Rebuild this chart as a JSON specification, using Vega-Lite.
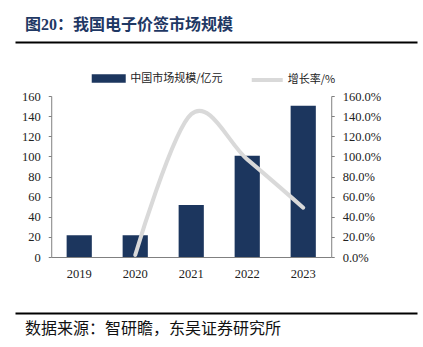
{
  "$schema": "https://vega.github.io/schema/vega-lite/v6.json",
  "padding": {"left": 15, "top": 16, "right": 6, "bottom": 5},
  "background": "white",
  "center": true,
  "spacing": 26,
  "config": {"view": {"stroke": null}, "font": "Liberation Serif, Noto Sans CJK SC"},
  "resolve": {"legend": {"fill": "independent", "stroke": "independent"}},
  "vconcat": [
    {
      "width": 402,
      "height": 1,
      "title": {
        "text": "图20：我国电子价签市场规模",
        "orient": "top",
        "anchor": "start",
        "font": "Liberation Serif, Noto Sans CJK SC",
        "fontSize": 16,
        "fontWeight": "bold",
        "color": "#1f3864",
        "dx": 10,
        "offset": 3
      },
      "data": {"values": [{"v": 0}, {"v": 1}]},
      "mark": {"type": "text", "text": ""},
      "encoding": {
        "x": {
          "field": "v",
          "type": "quantitative",
          "scale": {"domain": [0, 1], "nice": false},
          "axis": {"orient": "bottom", "title": null, "labels": false, "ticks": false, "grid": false, "domainColor": "#000000", "domainWidth": 2}
        }
      }
    },
    {
      "width": 280,
      "height": 161,
      "data": {
        "values": [
          {"year": "2019", "size": 21.5, "rate": null},
          {"year": "2020", "size": 21.5, "rate": 0.02},
          {"year": "2021", "size": 51.7, "rate": 1.42},
          {"year": "2022", "size": 100.7, "rate": 0.97},
          {"year": "2023", "size": 150.4, "rate": 0.49}
        ]
      },
      "encoding": {
        "x": {
          "field": "year",
          "type": "nominal",
          "scale": {"paddingInner": 0.55, "paddingOuter": 0.275},
          "axis": {
            "title": null,
            "labelAngle": 0,
            "ticks": false,
            "domainColor": "#808080",
            "labelFont": "Liberation Serif",
            "labelFontSize": 12.5,
            "labelColor": "#222222",
            "labelPadding": 10
          }
        }
      },
      "layer": [
        {
          "mark": {"type": "bar"},
          "encoding": {
            "y": {
              "field": "size",
              "type": "quantitative",
              "scale": {"domain": [0, 160], "nice": false},
              "axis": {
                "title": null,
                "orient": "left",
                "values": [0, 20, 40, 60, 80, 100, 120, 140, 160],
                "grid": false,
                "domainColor": "#808080",
                "tickColor": "#808080",
                "tickSize": 3,
                "labelPadding": 8,
                "labelFont": "Liberation Serif",
                "labelFontSize": 12.5,
                "labelColor": "#222222"
              }
            },
            "fill": {
              "datum": "中国市场规模/亿元",
              "scale": {"range": ["#1c365e"]},
              "legend": {
                "orient": "none",
                "legendX": 52,
                "legendY": -23,
                "title": null,
                "symbolType": "M-3.4,-0.85H3.4V0.85H-3.4Z",
                "symbolSize": 100,
                "symbolStrokeWidth": 0,
                "labelOffset": 16,
                "labelFont": "Noto Sans CJK SC",
                "labelFontSize": 11,
                "labelColor": "#222222"
              }
            }
          }
        },
        {
          "transform": [{"filter": "datum.rate != null"}],
          "mark": {"type": "line", "interpolate": "cardinal", "strokeWidth": 4, "strokeCap": "round"},
          "encoding": {
            "y": {
              "field": "rate",
              "type": "quantitative",
              "scale": {"domain": [0, 1.6], "nice": false},
              "axis": {
                "title": null,
                "orient": "right",
                "format": ".1%",
                "values": [0, 0.2, 0.4, 0.6, 0.8, 1.0, 1.2, 1.4, 1.6],
                "grid": false,
                "domainColor": "#808080",
                "tickColor": "#808080",
                "tickSize": 3,
                "labelPadding": 8,
                "labelFont": "Liberation Serif",
                "labelFontSize": 12.5,
                "labelColor": "#222222"
              }
            },
            "stroke": {
              "datum": "增长率/%",
              "scale": {"range": ["#d9d9d9"]},
              "legend": {
                "orient": "none",
                "legendX": 209,
                "legendY": -23,
                "title": null,
                "symbolType": "M-3.1,0H3.1",
                "symbolSize": 100,
                "symbolStrokeWidth": 4,
                "symbolFillColor": "transparent",
                "labelOffset": 13.5,
                "labelFont": "Noto Sans CJK SC",
                "labelFontSize": 11,
                "labelColor": "#222222"
              }
            }
          }
        }
      ],
      "resolve": {"scale": {"y": "independent"}}
    },
    {
      "width": 402,
      "height": 1,
      "title": {
        "text": "数据来源：智研瞻，东吴证券研究所",
        "orient": "bottom",
        "anchor": "start",
        "font": "Noto Sans CJK SC",
        "fontSize": 16,
        "fontWeight": "normal",
        "color": "#111111",
        "dx": 10,
        "offset": 3
      },
      "data": {"values": [{"v": 0}, {"v": 1}]},
      "mark": {"type": "text", "text": ""},
      "encoding": {
        "x": {
          "field": "v",
          "type": "quantitative",
          "scale": {"domain": [0, 1], "nice": false},
          "axis": {"orient": "bottom", "title": null, "labels": false, "ticks": false, "grid": false, "domainColor": "#000000", "domainWidth": 2}
        }
      }
    }
  ]
}
